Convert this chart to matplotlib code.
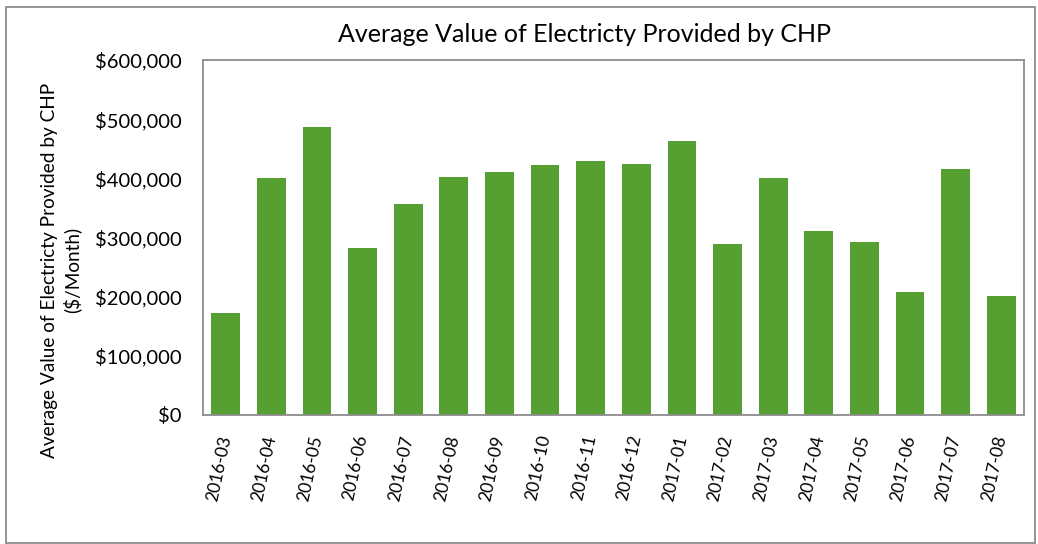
import numpy as np
import matplotlib
matplotlib.use('Agg')
from matplotlib import pyplot as plt
from matplotlib.patches import Rectangle

months = ['2016-03', '2016-04', '2016-05', '2016-06', '2016-07', '2016-08',
          '2016-09', '2016-10', '2016-11', '2016-12', '2017-01', '2017-02',
          '2017-03', '2017-04', '2017-05', '2017-06', '2017-07', '2017-08']
values = [171000, 400000, 486000, 282000, 356000, 402000,
          411000, 422000, 429000, 424000, 463000, 289000,
          400000, 311000, 292000, 207000, 416000, 201000]
yticks = [0, 100000, 200000, 300000, 400000, 500000, 600000]

plt.rcParams['font.family'] = ['Lato', 'DejaVu Sans']

W, H = 1038, 544
fig = plt.figure(figsize=(W / 100, H / 100), dpi=100)
ax = fig.add_axes([203 / W, 1 - 414.5 / H, (1024 - 203) / W, (414.5 - 60) / H])

x = np.arange(len(months))
ax.bar(x, values, width=0.63, color='#56a032')
ax.set_xlim(-0.5, len(months) - 0.5)
ax.set_ylim(0, 600000)
ax.set_yticks(yticks)
ax.set_yticklabels(['$' + format(v, ',') for v in yticks], fontsize=14.5)
ax.set_xticks(x)
ax.set_xticklabels(months, rotation=78, ha='right', va='center',
                   rotation_mode='anchor', fontsize=12.5)
ax.tick_params(axis='both', length=0)
ax.tick_params(axis='y', pad=15.5)
ax.tick_params(axis='x', pad=15)
for s in ax.spines.values():
    s.set_color('#8c8c8c')
    s.set_linewidth(1.3)

fig.text(585 / W, 1 - 34 / H, 'Average Value of Electricty Provided by CHP',
         ha='center', va='center', fontsize=18)
fig.text(61 / W, 1 - 270 / H, 'Average Value of Electricty Provided by CHP\n($/Month)',
         ha='center', va='center', rotation=90, fontsize=13.7, linespacing=1.3)

fig.patches.append(Rectangle((6 / W, 1 - 543 / H), (1035 - 6) / W, (543 - 7) / H,
                             transform=fig.transFigure, fill=False,
                             edgecolor='#8c8c8c', linewidth=1.3))

plt.savefig('out.png', dpi=100)
